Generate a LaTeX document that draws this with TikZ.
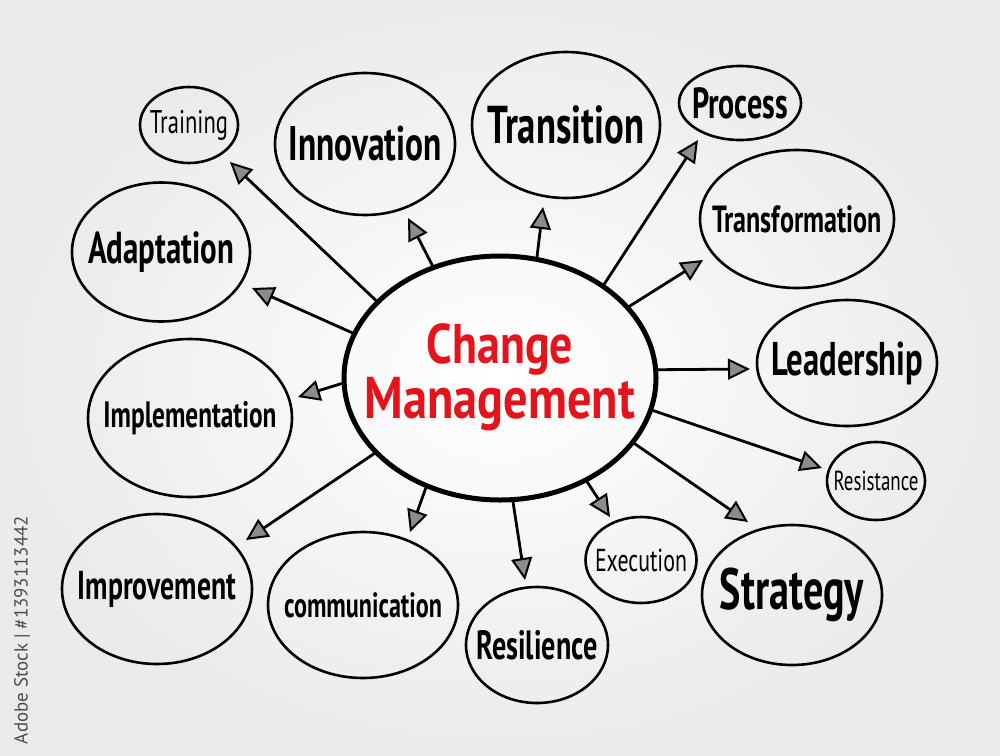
\documentclass[tikz,border=0pt]{standalone}
\usepackage{fontspec}
\setmainfont{PT Sans}
\usetikzlibrary{arrows.meta,shapes.geometric}
\definecolor{cmred}{HTML}{E3141B}
\newcommand\hw[2]{\scalebox{1}[1.45]{\resizebox{#1}{!}{#2}}}
\newcommand\hwc[2]{\scalebox{1}[1.22]{\resizebox{#1}{!}{#2}}}
\begin{document}
\begin{tikzpicture}[x=1pt,y=-1pt,
  bubble/.style={ellipse, draw=black, line width=2.6pt, inner sep=0pt},
  lbl/.style={inner sep=0pt, text=black},
  arr/.style={line width=2.8pt, line cap=round,
    -{Triangle[length=22pt,width=21pt,fill=black!45,line width=2pt]}}]
\useasboundingbox (0,0) rectangle (1000,755);
\shade[inner color=white, middle color=white, outer color=black!8] (0,0) rectangle (1000,755);

% watermark line
\node[rotate=90, text=black!70, inner sep=0pt] (wm) at (22,630) {\resizebox{228pt}{!}{Adobe Stock | \#1393113442}};

% central node
\node[bubble, line width=5pt, minimum width=312pt, minimum height=244pt,
  label={[lbl, text=cmred, align=center, yshift=1pt]center:\hwc{146pt}{\bfseries Change}\\[1pt]\hwc{270pt}{\bfseries Management}}] (cm) at (500,378) {};

% satellites
\node[bubble, minimum width=98pt, minimum height=76pt,
  label={[lbl]center:\hw{78pt}{Training}}] (tr) at (189,125) {};
\node[bubble, minimum width=180pt, minimum height=142pt,
  label={[lbl]center:\hw{153pt}{\bfseries Innovation}}] (inn) at (365,144) {};
\node[bubble, minimum width=188pt, minimum height=146pt,
  label={[lbl]center:\hw{156pt}{\bfseries Transition}}] (trn) at (566,125) {};
\node[bubble, minimum width=122pt, minimum height=74pt,
  label={[lbl]center:\hw{96pt}{\bfseries Process}}] (pro) at (740,103) {};
\node[bubble, minimum width=194pt, minimum height=138pt,
  label={[lbl]center:\hw{169pt}{\bfseries Transformation}}] (tfm) at (797,219) {};
\node[bubble, minimum width=180pt, minimum height=126pt,
  label={[lbl]center:\hw{152pt}{\bfseries Leadership}}] (lea) at (847,363) {};
\node[bubble, minimum width=98pt, minimum height=78pt,
  label={[lbl]center:\hw{85pt}{Resistance}}] (res) at (876,481) {};
\node[bubble, minimum width=180pt, minimum height=140pt,
  label={[lbl]center:\hw{144pt}{\bfseries Strategy}}] (str) at (792,595) {};
\node[bubble, minimum width=111pt, minimum height=86pt,
  label={[lbl]center:\hw{92pt}{Execution}}] (exe) at (641,560) {};
\node[bubble, minimum width=142pt, minimum height=116pt,
  label={[lbl]center:\hw{121pt}{\bfseries Resilience}}] (rsl) at (537,645) {};
\node[bubble, minimum width=190pt, minimum height=146pt,
  label={[lbl]center:\hw{158pt}{\bfseries communication}}] (com) at (363,605) {};
\node[bubble, minimum width=190pt, minimum height=150pt,
  label={[lbl]center:\hw{158pt}{\bfseries Improvement}}] (imp) at (157,589) {};
\node[bubble, minimum width=204pt, minimum height=158pt,
  label={[lbl]center:\hw{173pt}{\bfseries Implementation}}] (ipl) at (190,418) {};
\node[bubble, minimum width=178pt, minimum height=139pt,
  label={[lbl]center:\hw{146pt}{\bfseries Adaptation}}] (ada) at (161,252) {};

% arrow tips
\coordinate (aTr) at (230,162);
\coordinate (aInn) at (408,218);
\coordinate (aTrn) at (543,207);
\coordinate (aPro) at (698,140);
\coordinate (aTfm) at (703,260);
\coordinate (aLea) at (750,369);
\coordinate (aRes) at (822,468);
\coordinate (aStr) at (748,522);
\coordinate (aExe) at (610,517);
\coordinate (aRsl) at (525,580);
\coordinate (aCom) at (410,532);
\coordinate (aImp) at (246,540);
\coordinate (aIpl) at (298,397);
\coordinate (aAda) at (252,288);

\draw[arr] (cm.148.8) -- (aTr);
\draw[arr] (cm.121.4) -- (aInn);
\draw[arr] (cm.73.7) -- (aTrn);
\draw[arr] (cm.42.5) -- (aPro);
\draw[arr] (cm.29.7) -- (aTfm);
\draw[arr] (cm.3.6) -- (aLea);
\draw[arr] (cm.348) -- (aRes);
\draw[arr] (cm.334.6) -- (aStr);
\draw[arr] (cm.310.8) -- (aExe);
\draw[arr] (cm.276.8) -- (aRsl);
\draw[arr] (cm.236.2) -- (aCom);
\draw[arr] (cm.211.3) -- (aImp);
\draw[arr] (cm.182.6) -- (aIpl);
\draw[arr] (cm.163.8) -- (aAda);
\end{tikzpicture}
\end{document}
